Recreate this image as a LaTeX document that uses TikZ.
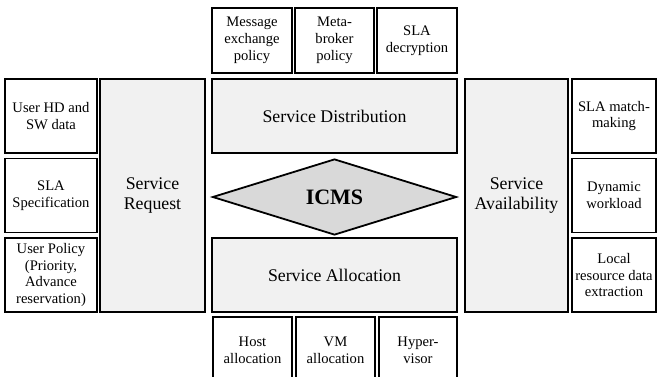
\documentclass[tikz,border=0pt]{standalone}
\usepackage{fontspec}
\setmainfont{Liberation Serif}
\usetikzlibrary{shapes.geometric}
\definecolor{panelgray}{RGB}{241,241,241}
\definecolor{icmsgray}{RGB}{217,217,217}
\begin{document}
\begin{tikzpicture}[x=1pt,y=-1pt,
  small/.style={draw=black, line width=1.8pt, fill=white, inner sep=0pt, align=center,
    font=\fontsize{14.6}{16.8}\selectfont},
  panel/.style={draw=black, line width=1.8pt, fill=panelgray, inner sep=0pt, align=center,
    font=\fontsize{17.8}{20}\selectfont},
  core/.style={diamond, draw=black, line width=1.8pt, fill=icmsgray, inner sep=0pt,
    minimum width=244pt, minimum height=76pt, font=\fontsize{22}{24}\selectfont\bfseries}]
\useasboundingbox (0,0) rectangle (657,376);
\clip (0,0) rectangle (657,376);
% top boxes
\node[small, minimum width=80pt, minimum height=65pt] (msg) at (252,40.5) {Message\\exchange\\policy};
\node[small, minimum width=79pt, minimum height=65pt] (meta) at (334.5,40.5) {Meta-\\broker\\policy};
\node[small, minimum width=80pt, minimum height=65pt] (sladec) at (417,40.5) {SLA\\decryption};
% left boxes
\node[small, minimum width=92pt, minimum height=74pt] (hd) at (51,116) {User HD and\\SW data};
\node[small, minimum width=92pt, minimum height=74pt] (spec) at (51,195.5) {SLA\\Specification};
\node[small, minimum width=92pt, minimum height=74pt] (upol) at (51,275) {User Policy\\(Priority,\\Advance\\reservation)};
% panels
\node[panel, minimum width=105pt, minimum height=233pt] (req) at (152.5,195.5) {Service\\Request};
\node[panel, minimum width=245pt, minimum height=74pt] (dist) at (334.5,116) {Service Distribution};
\node[panel, minimum width=245pt, minimum height=74pt] (alloc) at (334.5,275) {Service Allocation};
\node[panel, minimum width=103pt, minimum height=233pt] (avail) at (516.5,195.5) {Service\\Availability};
% ICMS
\node[core] (icms) at (334.5,197) {ICMS};
% right boxes
\node[small, minimum width=84pt, minimum height=74pt] (match) at (614,116) {SLA match-\\making};
\node[small, minimum width=84pt, minimum height=74pt] (dyn) at (614,195.5) {Dynamic\\workload};
\node[small, minimum width=84pt, minimum height=74pt] (local) at (614,275) {Local\\resource data\\extraction};
% bottom boxes
\node[small, minimum width=79pt, minimum height=66pt] (host) at (252.5,350) {Host\\allocation};
\node[small, minimum width=79pt, minimum height=66pt] (vm) at (335.5,350) {VM\\allocation};
\node[small, minimum width=78pt, minimum height=66pt] (hyp) at (418,350) {Hyper-\\visor};
\end{tikzpicture}
\end{document}
